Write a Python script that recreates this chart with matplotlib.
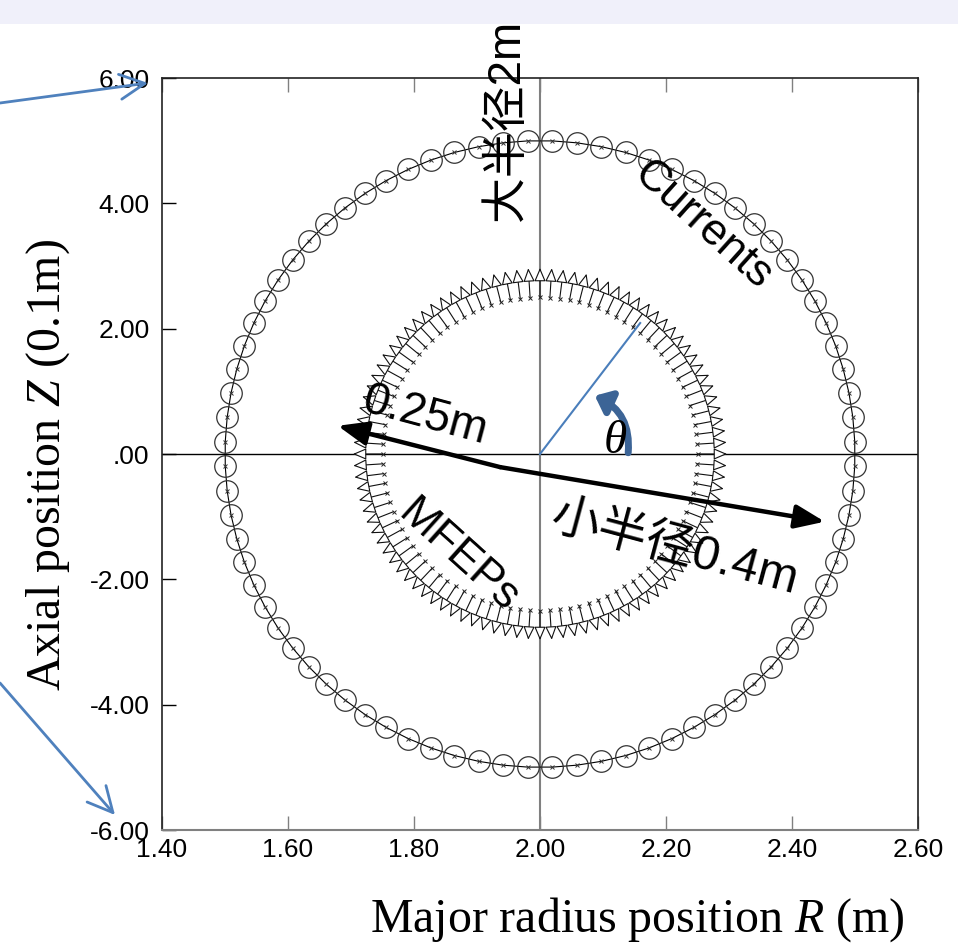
import matplotlib
matplotlib.use("Agg")
import matplotlib.pyplot as plt
import numpy as np
from matplotlib.patches import Rectangle, FancyArrowPatch

plt.rcParams["mathtext.fontset"] = "custom"
plt.rcParams["mathtext.rm"] = "Liberation Serif"
plt.rcParams["mathtext.it"] = "Liberation Serif:italic"

# geometry of the coil set (R in m, Z in 0.1 m)
R0, Z0 = 2.00, 0.00
n_currents = 80
current_r, current_z = 0.50, 5.00          # coil ring half-widths
n_mfep = 100
mfep_tail_r, mfep_tail_z = 0.25, 2.50
mfep_head_r, mfep_head_z = 0.297, 2.97

xticks = [1.40, 1.60, 1.80, 2.00, 2.20, 2.40, 2.60]
yticks = [6.0, 4.0, 2.0, 0.0, -2.0, -4.0, -6.0]
ytick_labels = ["6.00", "4.00", "2.00", ".00", "-2.00", "-4.00", "-6.00"]

# annotation guide line and arrows
theta_line_x, theta_line_y = [2.00, 2.159], [0.00, 2.09]
bar_left, bar_kink, bar_right = (1.679, 0.45), (1.937, -0.21), (2.452, -1.08)

fig = plt.figure(figsize=(9.58, 9.51), dpi=100)
fig.patches.append(Rectangle((0, 1 - 24 / 951), 1, 24 / 951, transform=fig.transFigure,
                             facecolor="#F0F0FA", edgecolor="none", zorder=-10))
ax = fig.add_axes([162 / 958, 1 - 830 / 951, 756 / 958, 752 / 951])

# currents ring
ang = np.deg2rad((np.arange(n_currents) + 0.5) * 360.0 / n_currents)
cx = R0 + current_r * np.cos(ang)
cz = Z0 + current_z * np.sin(ang)
ax.plot(np.append(cx, cx[0]), np.append(cz, cz[0]), "-", color="black", lw=0.8, zorder=3)
ax.plot(cx, cz, "o", ms=15.5, mfc="none", mec="#333333", mew=0.9, zorder=4)
ax.plot(cx, cz, "x", ms=3, color="#333333", mew=0.7, zorder=4)

# MFEP arrows
ang2 = np.deg2rad(np.arange(n_mfep) * 360.0 / n_mfep)
tx = R0 + mfep_tail_r * np.cos(ang2)
tz = Z0 + mfep_tail_z * np.sin(ang2)
hx = R0 + mfep_head_r * np.cos(ang2)
hz = Z0 + mfep_head_z * np.sin(ang2)
for x0, z0, x1, z1 in zip(tx, tz, hx, hz):
    ax.annotate("", xy=(x1, z1), xytext=(x0, z0),
                arrowprops=dict(arrowstyle="-|>,head_length=0.75,head_width=0.32",
                                fc="white", ec="#111111", lw=0.8,
                                shrinkA=0, shrinkB=0, mutation_scale=11), zorder=4)
ax.plot(tx, tz, "x", ms=3, color="#222222", mew=0.7, zorder=4)

# cross hairs
ax.axhline(0, color="black", lw=1.0, zorder=2)
ax.axvline(2.0, color="#808080", lw=1.5, zorder=2)

ax.set_xlim(1.40, 2.60)
ax.set_ylim(-6.0, 6.0)
ax.set_xticks(xticks)
ax.set_xticklabels(["%.2f" % v for v in xticks])
ax.set_yticks(yticks)
ax.set_yticklabels(ytick_labels)
for lab in ax.get_xticklabels() + ax.get_yticklabels():
    lab.set_family("Liberation Sans")
    lab.set_fontsize(19)
ax.tick_params(axis="x", direction="in", length=10, width=1, color="#808080",
               top=True, pad=6)
ax.tick_params(axis="y", direction="in", length=10, width=1, color="black", pad=9)
ax.spines["bottom"].set_color("#808080")
ax.spines["bottom"].set_linewidth(1.5)
for s in ["left", "top", "right"]:
    ax.spines[s].set_color("#222222")
    ax.spines[s].set_linewidth(1.2)

# annotations
ax.plot(theta_line_x, theta_line_y, color="#4A7EBB", lw=1.5, zorder=5)
ax.annotate("", xy=(2.087, 0.93), xytext=(2.140, 0.02),
            arrowprops=dict(arrowstyle="-|>,head_length=0.6,head_width=0.5",
                            connectionstyle="arc3,rad=0.35", color="#3C6496",
                            lw=5, shrinkA=0, shrinkB=0, mutation_scale=15), zorder=6)
for end in (bar_left, bar_right):
    ax.annotate("", xy=end, xytext=bar_kink,
                arrowprops=dict(arrowstyle="-|>,head_length=1.0,head_width=0.4",
                                color="black", lw=3.2, shrinkA=0, shrinkB=0,
                                mutation_scale=18), zorder=6)

sans = ["Liberation Sans", "Noto Sans CJK SC"]
ax.text(1.948, 5.33, "大半径2m", family=sans, fontsize=33, rotation=90,
        ha="center", va="center", zorder=7)
ax.text(2.259, 3.64, "Currents", family=sans, fontsize=32, rotation=-42,
        ha="center", va="center", rotation_mode="anchor", zorder=7)
ax.text(1.817, 0.61, "0.25m", family=sans, fontsize=33, rotation=-15,
        ha="center", va="center", rotation_mode="anchor", zorder=7)
ax.text(1.870, -1.63, "MFEPs", family=sans, fontsize=32, rotation=-42,
        ha="center", va="center", rotation_mode="anchor", zorder=7)
ax.text(2.214, -1.52, "小半径0.4m", family=sans, fontsize=35, rotation=-15,
        ha="center", va="center", rotation_mode="anchor", zorder=7)
ax.text(2.119, 0.22, r"$\theta$", fontsize=34, ha="center", va="center", zorder=7)

# pointers from the slide text
blue_kw = dict(arrowstyle="->,head_length=0.9,head_width=0.45", color="#4F81BD", lw=2,
               shrinkA=0, shrinkB=0, mutation_scale=20)
fig.add_artist(FancyArrowPatch((0.0, 1 - 103 / 951), (148 / 958, 1 - 83 / 951),
                               transform=fig.transFigure, **blue_kw))
fig.add_artist(FancyArrowPatch((0.0, 1 - 683 / 951), (115 / 958, 1 - 815 / 951),
                               transform=fig.transFigure, **blue_kw))

fig.text(48 / 958, 1 - 465 / 951, "Axial position $Z$ (0.1m)", family="Liberation Serif",
         fontsize=34.5, rotation=90, ha="center", va="center")
fig.text(637 / 958, 1 - 920 / 951, "Major radius position $R$ (m)", family="Liberation Serif",
         fontsize=34.5, ha="center", va="center")

plt.savefig("out.png", dpi=100)
